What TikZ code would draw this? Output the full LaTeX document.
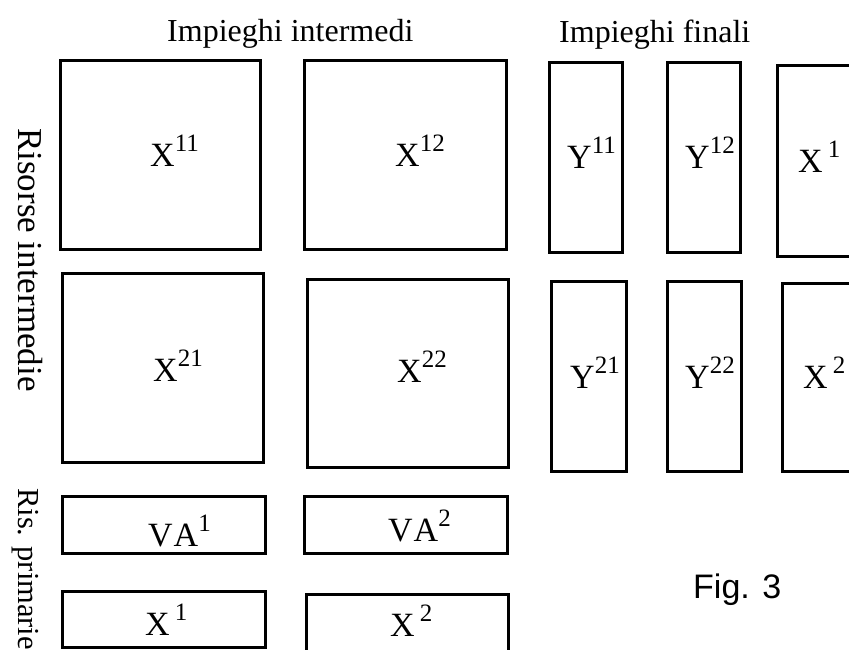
\documentclass[tikz,border=0pt]{standalone}
\usepackage{fontspec}
\setmainfont{Liberation Serif}
\newfontfamily\figfont{Liberation Sans}

% raised index placed after a block symbol
\newcommand\upidx[1]{\raisebox{15pt}{\fontsize{25}{25}\selectfont #1}}
% a block of the table: name, top-left x, top-left y, width, height
\newcommand\cellbox[5]{\node[cell, minimum width=#4pt, minimum height=#5pt] (#1) at (#2,#3) {};}

\tikzset{
  cell/.style={draw, line width=3pt, inner sep=0pt, outer sep=0pt, anchor=north west},
  lab/.style={inner sep=0pt, anchor=base west, font=\fontsize{34}{40}\selectfont},
  head/.style={inner sep=0pt, anchor=base west, font=\fontsize{32}{38}\selectfont},
  side/.style={inner sep=0pt, anchor=base west, rotate=-90, font=\fontsize{35}{40}\selectfont},
  caption/.style={inner sep=0pt, anchor=base west, font=\figfont\fontsize{34}{40}\selectfont},
}

\begin{document}
\begin{tikzpicture}[x=1pt, y=-1pt]
  \useasboundingbox (0,0) rectangle (849,650);
  \clip (0,0) rectangle (849,650);

  % column headings
  \node[head] (hint) at (167,42) {Impieghi intermedi};
  \node[head] (hfin) at (559,43) {Impieghi finali};

  % row headings
  \node[side] (rint) at (18,128) {Risorse intermedie};
  \node[side, font=\fontsize{30.5}{36}\selectfont] (rpri) at (19,488) {Ris. primarie};

  % intermediate flows
  \cellbox{x11}{60}{61}{200}{188}
  \cellbox{x12}{304}{61}{202}{188}
  \cellbox{x21}{62}{273}{201}{189}
  \cellbox{x22}{307}{279}{201}{188}

  % final uses
  \cellbox{y11}{549}{63}{73}{189}
  \cellbox{y12}{667}{63}{73}{189}
  \cellbox{y21}{551}{281}{75}{190}
  \cellbox{y22}{667}{281}{74}{190}

  % total output, right column
  \cellbox{xr1}{777}{66}{110}{190}
  \cellbox{xr2}{782}{283}{110}{188}

  % primary resources
  \cellbox{va1}{62}{496}{203}{57}
  \cellbox{va2}{304}{496}{203}{57}
  \cellbox{xb1}{62}{591}{203}{56}
  \cellbox{xb2}{306}{594}{202}{57}

  % block symbols
  \node[lab] (lx11) at (150,167) {X\upidx{11}};
  \node[lab] (lx12) at (395,167) {X\upidx{12}};
  \node[lab] (lx21) at (153,381) {X\upidx{21}};
  \node[lab] (lx22) at (397,382) {X\upidx{22}};
  \node[lab] (ly11) at (567,168) {Y\upidx{11}};
  \node[lab] (ly12) at (685,168) {Y\upidx{12}};
  \node[lab] (ly21) at (570,388) {Y\upidx{21}};
  \node[lab] (ly22) at (685,388) {Y\upidx{22}};
  \node[lab] (lxr1) at (798,172) {X\kern5pt\upidx{1}};
  \node[lab] (lxr2) at (803,388) {X\kern5pt\upidx{2}};
  \node[lab] (lva1) at (148,546) {V\kern1pt A\upidx{1}};
  \node[lab] (lva2) at (388,541) {V\kern1pt A\upidx{2}};
  \node[lab] (lxb1) at (145,635) {X\kern5pt\upidx{1}};
  \node[lab] (lxb2) at (390,636) {X\kern5pt\upidx{2}};

  \node[caption] (fig) at (693,598) {Fig. 3};
\end{tikzpicture}
\end{document}
